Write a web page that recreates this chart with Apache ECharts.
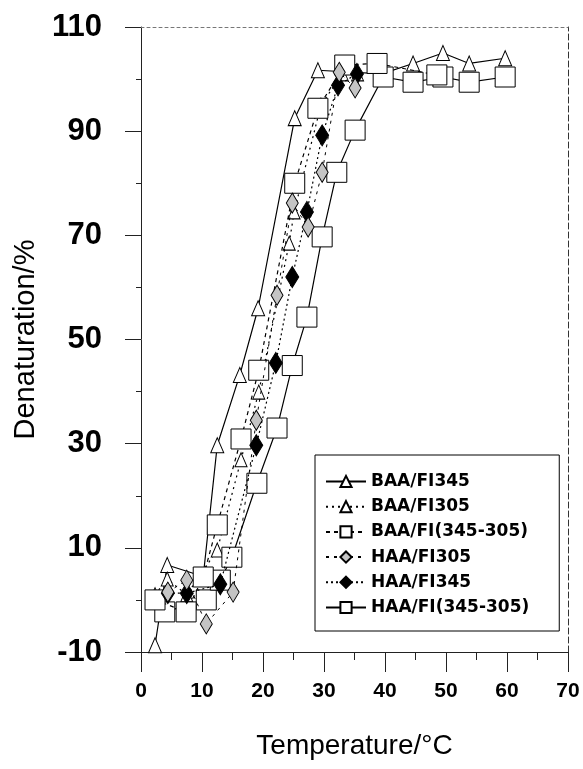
<!DOCTYPE html>
<html>
<head>
<meta charset="utf-8">
<script src="https://cdn.jsdelivr.net/npm/echarts@6/dist/echarts.min.js"></script>
<style>
html,body{margin:0;padding:0;background:#fff;}
#c{width:583px;height:769px;}
</style>
</head>
<body>
<div id="c"></div>
<script>
// ---- data (temperature °C, denaturation %) ----
const seriesNames = ['BAA/FI345', 'BAA/FI305', 'BAA/FI(345-305)', 'HAA/FI305', 'HAA/FI345', 'HAA/FI(345-305)'];
const baaFI345 = [[2.3,-8.7],[4.3,6.7],[10.2,4.5],[12.5,29.7],[16.2,43.2],[19.2,56],[25.2,92.5],[29,101.7],[39.5,101],[44.6,103],[49.5,105],[53.8,103],[59.7,104]];
const baaFI305 = [[2.3,1],[4.3,4],[7.5,1],[12.5,9.6],[16.4,26.9],[19.3,39.9],[24.3,68.5],[25.1,74.5],[29.5,95],[33,101],[35.5,101]];
const baaFI345_305 = [[2.3,0],[7.4,-2.3],[10.2,4.4],[12.5,14.4],[16.4,30.9],[19.3,44.1],[25.2,80],[29,94.4],[33.4,102.7],[38.7,103],[48.5,100.8]];
const haaFI305 = [[4.4,1.5],[7.5,3.8],[10.7,-4.6],[15.1,1.5],[18.9,34.5],[22.3,58.5],[24.8,76.2],[27.4,71.6],[29.7,82.1],[32.5,101.3],[35.1,98.3]];
const haaFI345 = [[4.4,1.3],[7.5,1.3],[13,3],[18.9,29.7],[22.1,45.5],[24.8,62],[27.2,74.5],[29.7,89.2],[32.3,98.8],[35.4,101]];
const haaFI345_305 = [[3.9,-2.3],[10.7,0],[13,3.8],[14.9,8.2],[19,22.4],[22.3,33],[24.8,45],[27.2,54.3],[29.7,69.7],[32.1,82.1],[35.1,90.2],[39.7,100.4],[44.6,99.4],[49.5,100.4],[53.8,99.4],[59.7,100.4]];
const xTicks = [0, 10, 20, 30, 40, 50, 60, 70];
const yTicks = [-10, 10, 30, 50, 70, 90, 110];

const chart = echarts.init(document.getElementById('c'), null, {renderer:'canvas'});
const blk = '#000';
function mk(name, data, symbol, size, fill, lineType, lineWidth, z) {
  return {
    name: name, type: 'line', data: data, symbol: symbol, symbolSize: size,
    z: z, animation: false, showAllSymbol: true,
    itemStyle: {color: fill, borderColor: blk, borderWidth: 1},
    lineStyle: {color: blk, width: lineWidth, type: lineType},
    emphasis: {disabled: true}
  };
}
chart.setOption({
  animation: false,
  backgroundColor: '#fff',
  grid: {left: 141, right: 15, top: 27, bottom: 117},
  legend: {
    orient: 'vertical', left: 315, top: 455,
    padding: [18, 30, 15, 10], itemWidth: 40, itemHeight: 14, itemGap: 8.2,
    borderColor: '#000', borderWidth: 1, backgroundColor: '#fff',
    textStyle: {fontFamily: 'DejaVu Sans', fontWeight: 'bold', fontSize: 17, color: '#000'},
    data: seriesNames, selectedMode: false
  },
  xAxis: [{
    type: 'value', min: xTicks[0], max: xTicks[xTicks.length-1], interval: 10,
    name: 'Temperature/°C', nameLocation: 'middle', nameGap: 80,
    nameTextStyle: {fontFamily: 'Liberation Sans', fontSize: 28, color: '#000'},
    axisLine: {show: true, onZero: false, lineStyle: {color: '#222', width: 1}},
    axisTick: {show: true, length: 20, lineStyle: {color: '#222', width: 1}},
    minorTick: {show: true, splitNumber: 2, length: 8, lineStyle: {color: '#222', width: 1}},
    splitLine: {show: false},
    axisLabel: {margin: 29, fontFamily: 'Liberation Sans', fontWeight: 'bold', fontSize: 21, color: '#000'}
  }, {
    type: 'value', min: 0, max: 70, position: 'top',
    axisLine: {show: true, onZero: false, lineStyle: {color: '#777', width: 1, type: [3, 3]}},
    axisTick: {show: false}, axisLabel: {show: false}, splitLine: {show: false}
  }],
  yAxis: [{
    type: 'value', min: yTicks[0], max: yTicks[yTicks.length-1], interval: 20,
    name: 'Denaturation/%', nameLocation: 'middle', nameGap: 101,
    nameTextStyle: {fontFamily: 'Liberation Sans', fontSize: 29, color: '#000'},
    axisLine: {show: true, onZero: false, lineStyle: {color: '#222', width: 1}},
    axisTick: {show: true, length: 16, lineStyle: {color: '#222', width: 1}},
    minorTick: {show: true, splitNumber: 2, length: 5, lineStyle: {color: '#222', width: 1}},
    splitLine: {show: false},
    axisLabel: {margin: 39, fontFamily: 'Liberation Sans', fontWeight: 'bold', fontSize: 31, color: '#000'}
  }, {
    type: 'value', min: -10, max: 110, position: 'right',
    axisLine: {show: true, onZero: false, lineStyle: {color: '#333', width: 1, type: [6, 3]}},
    axisTick: {show: false}, axisLabel: {show: false}, splitLine: {show: false}
  }],
  series: [
    mk(seriesNames[0], baaFI345, 'triangle', [13, 15], '#fff', 'solid', 1.2, 2),
    mk(seriesNames[1], baaFI305, 'triangle', [12, 14], '#fff', [2, 4], 1.2, 3),
    mk(seriesNames[5], haaFI345_305, 'rect', 20, '#fff', 'solid', 1.2, 4),
    mk(seriesNames[2], baaFI345_305, 'rect', 20, '#fff', [4, 4], 1.2, 5),
    mk(seriesNames[4], haaFI345, 'diamond', [13, 21], '#000', [2, 3], 1.2, 6),
    mk(seriesNames[3], haaFI305, 'diamond', [12, 20], '#c4c4c4', [3, 5], 1, 7)
  ]
});
</script>
</body>
</html>
